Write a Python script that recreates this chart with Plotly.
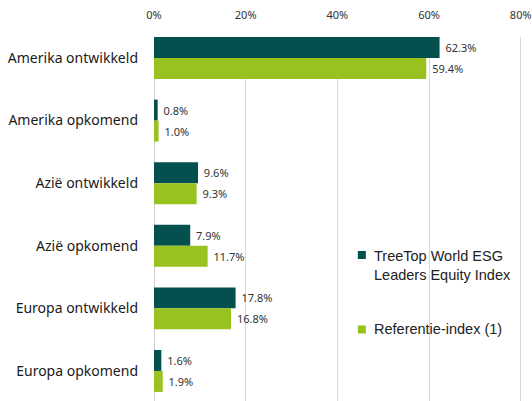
import plotly.graph_objects as go

categories = ["Amerika ontwikkeld", "Amerika opkomend", "Azië ontwikkeld",
              "Azië opkomend", "Europa ontwikkeld", "Europa opkomend"]
treetop = [62.3, 0.8, 9.6, 7.9, 17.8, 1.6]
referentie = [59.4, 1.0, 9.3, 11.7, 16.8, 1.9]
series_names = ["TreeTop World ESG<br>Leaders Equity Index", "Referentie-index (1)"]
series_colors = ["#03504E", "#97C21F"]
tick_vals = [0, 20, 40, 60, 80]
tick_text = ["0%", "20%", "40%", "60%", "80%"]

NB = "\u00a0"
fig = go.Figure()
for vals, name, col in [(treetop, series_names[0], series_colors[0]),
                        (referentie, series_names[1], series_colors[1])]:
    fig.add_trace(go.Bar(
        y=categories, x=vals, orientation="h", name=name,
        marker=dict(color=col, line=dict(width=0)),
        text=[f"{NB}{v:.1f}%" for v in vals], textposition="outside",
        textfont=dict(size=11, color="#333333", family="Noto Sans"),
        cliponaxis=False, showlegend=False,
    ))

# legend drawn as squares + text at the reference position
legend_items = [
    (series_names[0], series_colors[0], 0.3901, 0.4121, 0.3736),
    (series_names[1], series_colors[1], 0.1854, 0.2074, 0.1978),
]
for name, col, y0, y1, ty in legend_items:
    fig.add_shape(type="rect", xref="paper", yref="paper",
                  x0=0.5524, x1=0.5741, y0=y0, y1=y1,
                  fillcolor=col, line=dict(width=0))
    fig.add_annotation(xref="paper", yref="paper", x=0.590, y=ty,
                       xanchor="left", yanchor="middle", align="left",
                       text=name, showarrow=False,
                       font=dict(size=14.5, color="#222222", family="Liberation Sans"))

fig.update_layout(
    width=532, height=401,
    margin=dict(l=154, r=9, t=37, b=0, autoexpand=False),
    barmode="group", bargap=0.33, bargroupgap=0,
    plot_bgcolor="white", paper_bgcolor="white",
    font=dict(family="Noto Sans", color="#222222"),
    showlegend=False,
    xaxis=dict(
        side="top", range=[0, 80.5], tickvals=tick_vals, ticktext=tick_text,
        showgrid=True, gridcolor="#dadada", gridwidth=1,
        zeroline=True, zerolinecolor="#cfcfcf", zerolinewidth=1,
        tickfont=dict(size=11, color="#333333", family="Noto Sans"), ticks="",
        ticklabelstandoff=15, automargin=False,
    ),
    yaxis=dict(
        range=[5.48, -0.335], autorange=False,
        tickfont=dict(size=14, color="#1a1a1a", family="Noto Sans"),
        ticks="", ticklabelstandoff=15, showgrid=False, automargin=False,
    ),
)

fig.write_html("out.html", config={"displayModeBar": False},
               post_script="document.body.style.margin='0';")
